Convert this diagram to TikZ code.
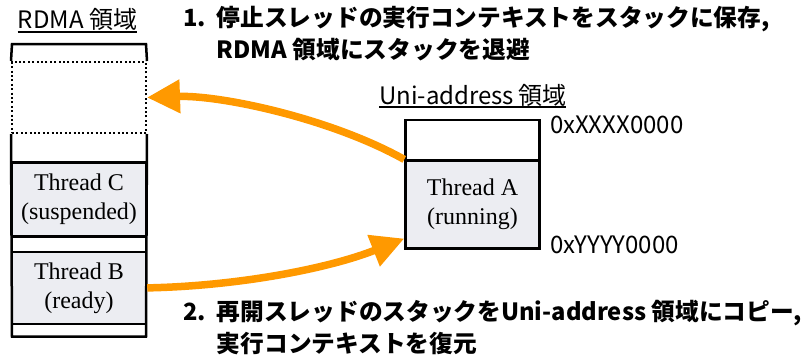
\documentclass[tikz,border=0pt]{standalone}
\usepackage{fontspec}
\setmainfont{Noto Sans CJK JP}
\newfontfamily\seriffont{Liberation Serif}
\usetikzlibrary{arrows.meta}
\definecolor{boxgray}{RGB}{236,237,242}
\definecolor{arroworange}{RGB}{255,153,0}
\begin{document}
\begin{tikzpicture}[x=1pt,y=-1pt,
  tbox/.style={draw, line width=2.5pt, fill=boxgray, minimum width=134pt, inner sep=0pt, align=center,
    font=\seriffont\fontsize{24}{29}\selectfont},
  emptybox/.style={draw, line width=2.5pt, minimum width=134pt, inner sep=0pt},
  frame/.style={line width=2.5pt},
  dotbox/.style={draw, line width=2pt, dash pattern=on 2pt off 2.4pt, minimum width=134pt, inner sep=0pt},
  conn/.style={arroworange, line width=7.5pt, -{Triangle[length=33pt,width=32pt]}},
  lbl/.style={font=\fontsize{24}{28}\selectfont, inner sep=0pt},
  ul/.style={line width=1.8pt},
  title/.style={font=\bfseries\fontsize{23.7}{32}\selectfont, inner sep=0pt, align=left}
]
\useasboundingbox (0,0) rectangle (807,356);

% RDMA region column
\node[dotbox, minimum height=71pt] (D) at (79,97.5) {};
\node[tbox, minimum height=74pt] (C) at (79,199.7) {Thread C\\(suspended)};
\node[tbox, minimum height=72.3pt] (B) at (79,287.9) {Thread B\\(ready)};
\coordinate (LTL) at (12,44);
\coordinate (LTR) at (146,44);
\coordinate (LBL) at (12,336.7);
\coordinate (LBR) at (146,336.7);
\draw[frame] (D.north west) -- (LTL) -- (LTR) -- (D.north east);
\draw[frame] (D.south west) -- (LBL) -- (LBR) -- (D.south east);

% Uni-address region
\node[emptybox, minimum height=40.7pt] (E) at (472.5,140.35) {};
\node[tbox, minimum height=87.6pt] (A) at (472.5,204.5) {Thread A\\(running)};

% labels
\node[lbl, anchor=base] (RL) at (77.5,28) {RDMA 領域};
\draw[ul] ([yshift=-4pt]RL.base west) -- ([yshift=-4pt]RL.base east);
\node[lbl, anchor=base] (UL) at (472.7,104) {Uni-address\hspace{4pt}領域};
\draw[ul] ([yshift=-3pt]UL.base west) -- ([yshift=-3pt]UL.base east);
\node[lbl, anchor=base west] (XA) at (550,133) {0xXXXX0000};
\node[lbl, anchor=base west] (YA) at (550,253) {0xYYYY0000};

% titles
\node[title, anchor=base west] (T1) at (183,27) {\begin{tabular}[t]{@{}l@{}l@{}}\makebox[33.7pt][l]{1.}&停止スレッドの実行コンテキストをスタックに保存,\\&RDMA 領域にスタックを退避\end{tabular}};
\node[title, anchor=base west] (T2) at (183,320) {\begin{tabular}[t]{@{}l@{}l@{}}\makebox[33.7pt][l]{2.}&再開スレッドのスタックをUni-address 領域にコピー,\\&実行コンテキストを復元\end{tabular}};

% arrows
\draw[conn] (A.north west) .. controls (330,118) and (220,95) .. (D.east);
\draw[conn] (B.east) .. controls (240,286) and (330,268) .. ([yshift=11pt]A.south west);
\end{tikzpicture}
\end{document}
